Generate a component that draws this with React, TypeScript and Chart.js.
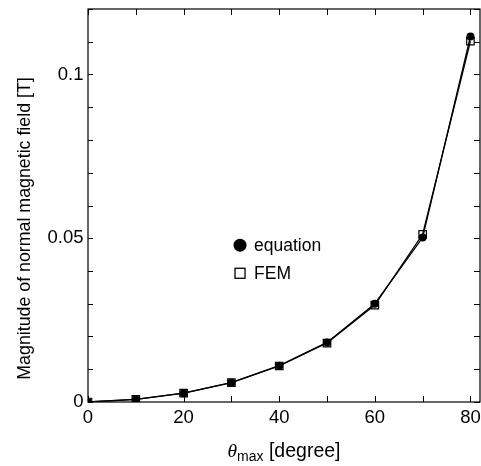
import React, { useEffect, useRef } from "react";
import { Chart, registerables } from "chart.js";

Chart.register(...registerables);

const thetaDeg = [0, 10, 20, 30, 40, 50, 60, 70, 80];
const equationValues = [0, 0.0008, 0.0027, 0.0059, 0.0111, 0.0182, 0.03, 0.0502, 0.1116];
const femValues = [0, 0.0008, 0.0027, 0.0059, 0.011, 0.018, 0.0296, 0.0512, 0.1102];
const yTickLabels: Record<string, string> = { "0": "0", "0.05": "0.05", "0.1": "0.1" };
const xTickLabels = [0, 20, 40, 60, 80];
const legendLabels = ["equation", "FEM"];

const FONT = '"Liberation Sans", Arial, Helvetica, sans-serif';
const INK = "#000";

const framePlugin = {
  id: "frameTicks",
  afterDraw(chart: any) {
    const { ctx, chartArea } = chart;
    const { left, right, top, bottom } = chartArea;
    const xs = chart.scales.x;
    const ys = chart.scales.y;
    ctx.save();
    ctx.strokeStyle = INK;
    ctx.lineWidth = 1.2;
    ctx.strokeRect(left, top, right - left, bottom - top);
    // inward ticks
    ctx.lineWidth = 1;
    ctx.beginPath();
    for (let v = 0; v <= 80.001; v += 10) {
      const px = Math.round(xs.getPixelForValue(v)) + 0.5;
      ctx.moveTo(px, bottom);
      ctx.lineTo(px, bottom - 6);
      ctx.moveTo(px, top);
      ctx.lineTo(px, top + 6);
    }
    for (let i = 0; i <= 12; i++) {
      const v = i * 0.01;
      const py = Math.round(ys.getPixelForValue(v)) + 0.5;
      ctx.moveTo(left, py);
      ctx.lineTo(left + 5, py);
      ctx.moveTo(right, py);
      ctx.lineTo(right - 6, py);
    }
    ctx.stroke();

    // x title: theta_max [degree]
    const cx = (left + right) / 2;
    const baseY = 457;
    ctx.fillStyle = INK;
    ctx.textBaseline = "alphabetic";
    ctx.textAlign = "left";
    const fMain = `19.5px ${FONT}`;
    const fItal = `italic 19.5px "Liberation Serif", "Times New Roman", serif`;
    const fSub = `14px ${FONT}`;
    ctx.font = fItal;
    const wTheta = ctx.measureText("\u03b8").width;
    ctx.font = fSub;
    const wSub = ctx.measureText("max").width;
    ctx.font = fMain;
    const wRest = ctx.measureText(" [degree]").width;
    const total = wTheta + wSub + wRest;
    let x0 = cx - total / 2;
    ctx.font = fItal;
    ctx.fillText("\u03b8", x0, baseY);
    x0 += wTheta;
    ctx.font = fSub;
    ctx.fillText("max", x0, baseY + 4);
    x0 += wSub;
    ctx.font = fMain;
    ctx.fillText(" [degree]", x0, baseY);

    // y title
    ctx.save();
    ctx.translate(25, 228.5);
    ctx.rotate(-Math.PI / 2);
    ctx.textAlign = "center";
    ctx.textBaseline = "middle";
    ctx.font = `17.8px ${FONT}`;
    ctx.fillText("Magnitude of normal magnetic field [T]", 0, 0);
    ctx.restore();

    // legend
    const lx = xs.getPixelForValue(31.8);
    const ly1 = ys.getPixelForValue(0.0479);
    const ly2 = ys.getPixelForValue(0.0393);
    ctx.beginPath();
    ctx.arc(lx, ly1, 6.5, 0, Math.PI * 2);
    ctx.fill();
    ctx.lineWidth = 1.3;
    ctx.strokeRect(lx - 5, ly2 - 5, 10, 10);
    ctx.font = `17.5px ${FONT}`;
    ctx.textAlign = "left";
    ctx.textBaseline = "middle";
    ctx.fillText(legendLabels[0], lx + 14, ly1 + 1);
    ctx.fillText(legendLabels[1], lx + 14, ly2 + 1);
    ctx.restore();
  },
};

const zeroPad = (s: any) => {
  s.paddingLeft = 0;
  s.paddingRight = 0;
  s.paddingTop = 0;
  s.paddingBottom = 0;
};

export default function App() {
  const ref = useRef<HTMLCanvasElement | null>(null);
  useEffect(() => {
    document.body.style.margin = "0";
    const canvas = ref.current!;
    const chart = new Chart(canvas, {
      type: "scatter",
      data: {
        datasets: [
          {
            label: legendLabels[1],
            data: thetaDeg.map((x, i) => ({ x, y: femValues[i] })),
            showLine: true,
            borderColor: INK,
            borderWidth: 1.3,
            pointStyle: "rect",
            pointRadius: 5.3,
            pointBackgroundColor: "rgba(0,0,0,0)",
            pointBorderColor: INK,
            pointBorderWidth: 1.2,
          },
          {
            label: legendLabels[0],
            data: thetaDeg.map((x, i) => ({ x, y: equationValues[i] })),
            showLine: true,
            borderColor: INK,
            borderWidth: 1.3,
            pointStyle: "circle",
            pointRadius: 4,
            pointBackgroundColor: INK,
            pointBorderColor: INK,
            pointBorderWidth: 0,
          },
        ],
      },
      options: {
        animation: false,
        responsive: false,
        maintainAspectRatio: false,
        layout: { autoPadding: false, padding: { top: 9, right: 1, left: 0, bottom: 0 } },
        plugins: { legend: { display: false }, tooltip: { enabled: false } },
        scales: {
          x: {
            type: "linear",
            min: 0,
            max: 82,
            grid: { display: false, drawTicks: false },
            border: { display: false },
            ticks: {
              stepSize: 10,
              includeBounds: false,
              autoSkip: false,
              maxRotation: 0,
              padding: 5,
              color: INK,
              font: { family: FONT, size: 18.5 },
              callback: (v: any) => {
                const n = Math.round(Number(v));
                return xTickLabels.includes(n) && Math.abs(n - v) < 1e-6 ? String(n) : "";
              },
            },
            afterFit: (s: any) => {
              s.height = 64;
              zeroPad(s);
            },
          },
          y: {
            type: "linear",
            min: 0,
            max: 0.12,
            grid: { display: false, drawTicks: false },
            border: { display: false },
            ticks: {
              stepSize: 0.01,
              autoSkip: false,
              padding: 4.5,
              color: INK,
              font: { family: FONT, size: 18.5 },
              callback: (v: any) => {
                const key = String(Math.round(Number(v) * 100) / 100);
                return yTickLabels[key] ?? "";
              },
            },
            afterFit: (s: any) => {
              s.width = 88;
              zeroPad(s);
            },
          },
        },
      },
      plugins: [framePlugin],
    });
    return () => chart.destroy();
  }, []);
  return (
    <div style={{ position: "relative", width: 481, height: 466 }}>
      <canvas ref={ref} width={481} height={466} style={{ display: "block" }} />
    </div>
  );
}
